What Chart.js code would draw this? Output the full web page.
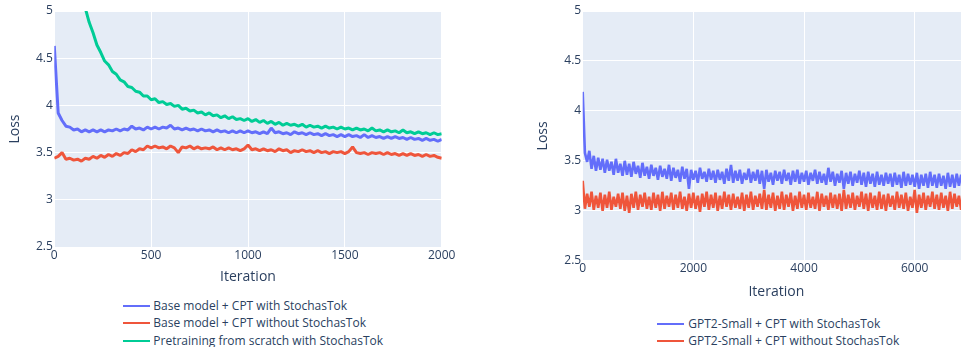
<!DOCTYPE html>
<html><head><meta charset="utf-8">
<script src="https://cdn.jsdelivr.net/npm/chart.js@4.4.1/dist/chart.umd.min.js"></script>
<style>
html,body{margin:0;padding:0;background:#fff;overflow:hidden;width:961px;height:347px;position:relative;}
canvas{position:absolute;top:0;}
#c1{left:0;} #c2{left:480px;}
.item{position:absolute;font:12px "Open Sans",sans-serif;color:#2a3f5f;white-space:nowrap;height:16px;line-height:16px;}
.sw{position:absolute;width:27px;height:2px;}
</style></head>
<body>
<canvas id="c1" width="480" height="290"></canvas>
<canvas id="c2" width="491" height="305"></canvas>
<div id="legends"></div>
<script>
// ---------- DATA ----------
const leftLabels = ["Base model + CPT with StochasTok","Base model + CPT without StochasTok","Pretraining from scratch with StochasTok"];
const rightLabels = ["GPT2-Small + CPT with StochasTok","GPT2-Small + CPT without StochasTok"];
const xTicksLeft = [0,500,1000,1500,2000];
const xTicksRight = [0,2000,4000,6000];
const yTicks = [2.5,3,3.5,4,4.5,5];

// left panel: one value every 20 iterations (0..2000)
const leftIterations = [];
for (let i = 0; i <= 100; i++) leftIterations.push(i * 20);
const baseWith = [4.63,3.92,3.84,3.78,3.77,3.74,3.75,3.72,3.74,3.72,
 3.74,3.72,3.74,3.72,3.74,3.73,3.75,3.73,3.75,3.74,
 3.78,3.75,3.76,3.74,3.77,3.75,3.77,3.75,3.77,3.76,
 3.79,3.75,3.76,3.74,3.76,3.74,3.75,3.73,3.75,3.73,
 3.74,3.72,3.74,3.72,3.73,3.71,3.73,3.71,3.73,3.71,
 3.73,3.71,3.72,3.70,3.72,3.70,3.76,3.71,3.72,3.70,
 3.71,3.69,3.72,3.70,3.71,3.69,3.71,3.69,3.70,3.68,
 3.70,3.68,3.69,3.67,3.69,3.67,3.69,3.67,3.68,3.66,
 3.69,3.66,3.68,3.66,3.67,3.65,3.67,3.65,3.67,3.65,
 3.66,3.64,3.66,3.64,3.65,3.63,3.65,3.63,3.64,3.62,
 3.64];
const baseWithout = [3.44,3.46,3.50,3.43,3.44,3.42,3.43,3.41,3.44,3.43,
 3.46,3.44,3.47,3.45,3.48,3.46,3.49,3.47,3.50,3.49,
 3.53,3.51,3.54,3.53,3.57,3.55,3.57,3.55,3.56,3.54,
 3.57,3.55,3.50,3.56,3.55,3.57,3.54,3.56,3.54,3.55,
 3.54,3.56,3.53,3.55,3.53,3.55,3.53,3.54,3.52,3.54,
 3.58,3.53,3.54,3.52,3.54,3.52,3.53,3.51,3.54,3.52,
 3.53,3.50,3.52,3.51,3.53,3.51,3.52,3.50,3.52,3.50,
 3.51,3.49,3.51,3.50,3.51,3.49,3.51,3.56,3.50,3.49,
 3.50,3.48,3.50,3.49,3.50,3.48,3.50,3.48,3.49,3.47,
 3.49,3.47,3.49,3.47,3.48,3.46,3.48,3.46,3.47,3.45,
 3.44];
const scratchWith = [8.8,7.7,6.9,6.3,5.9,5.62,5.4,5.2,5.03,4.88,
 4.77,4.64,4.56,4.47,4.43,4.36,4.33,4.27,4.25,4.20,
 4.19,4.15,4.14,4.10,4.10,4.06,4.07,4.03,4.04,4.01,
 4.02,3.99,4.00,3.96,3.97,3.94,3.95,3.92,3.93,3.90,
 3.92,3.89,3.90,3.87,3.89,3.86,3.88,3.85,3.86,3.84,
 3.86,3.83,3.85,3.82,3.84,3.81,3.83,3.80,3.82,3.79,
 3.81,3.79,3.80,3.78,3.80,3.77,3.79,3.77,3.78,3.76,
 3.78,3.76,3.77,3.75,3.77,3.75,3.76,3.74,3.76,3.74,
 3.75,3.73,3.76,3.73,3.74,3.72,3.74,3.72,3.73,3.71,
 3.74,3.71,3.72,3.70,3.72,3.70,3.71,3.69,3.71,3.69,
 3.70];

// right panel: one value every 40 iterations (0..7000)
const rightIterations = [];
for (let i = 0; i <= 175; i++) rightIterations.push(i * 40);
const gpt2With = [4.19,3.58,3.49,3.60,3.42,3.55,3.40,3.53,3.41,3.52,
 3.38,3.51,3.40,3.49,3.36,3.52,3.38,3.47,3.35,3.50,
 3.36,3.47,3.34,3.49,3.37,3.45,3.33,3.48,3.35,3.44,
 3.32,3.46,3.35,3.43,3.31,3.45,3.34,3.42,3.32,3.46,
 3.30,3.43,3.33,3.41,3.29,3.44,3.32,3.42,3.22,3.41,
 3.31,3.40,3.28,3.43,3.32,3.39,3.29,3.42,3.31,3.40,
 3.28,3.41,3.31,3.39,3.27,3.42,3.30,3.46,3.28,3.40,
 3.30,3.41,3.27,3.38,3.31,3.42,3.28,3.39,3.30,3.41,
 3.27,3.40,3.22,3.41,3.29,3.38,3.26,3.40,3.30,3.39,
 3.27,3.41,3.30,3.38,3.26,3.40,3.29,3.41,3.27,3.38,
 3.29,3.40,3.26,3.38,3.30,3.41,3.27,3.39,3.28,3.37,
 3.26,3.43,3.29,3.39,3.25,3.37,3.28,3.40,3.22,3.38,
 3.27,3.39,3.25,3.37,3.28,3.40,3.26,3.38,3.24,3.39,
 3.27,3.37,3.24,3.39,3.26,3.36,3.25,3.38,3.27,3.37,
 3.24,3.38,3.26,3.36,3.23,3.39,3.25,3.37,3.26,3.36,
 3.24,3.38,3.22,3.36,3.25,3.37,3.23,3.39,3.25,3.36,
 3.23,3.37,3.25,3.35,3.22,3.38,3.24,3.36,3.23,3.37,
 3.25,3.36,3.23,3.38,3.24,3.35];
const gpt2Without = [3.30,3.02,3.17,3.04,3.19,3.01,3.15,3.03,3.18,3.00,
 3.16,3.03,3.19,3.01,3.14,3.04,3.17,3.02,3.18,3.00,
 3.15,2.98,3.17,3.03,3.19,3.01,3.16,3.04,3.18,3.02,
 3.14,3.01,3.18,3.03,3.16,3.00,3.19,3.02,3.15,3.04,
 3.18,3.01,3.16,3.03,3.19,3.02,3.14,3.00,3.17,3.03,
 3.18,3.02,3.15,2.99,3.17,3.04,3.19,3.01,3.16,3.03,
 3.18,3.00,3.15,3.02,3.19,3.04,3.16,3.01,3.17,3.03,
 3.14,3.02,3.18,3.00,3.16,3.03,3.19,3.01,3.15,3.04,
 3.17,3.02,3.21,3.01,3.16,3.03,3.18,3.00,3.15,3.02,
 3.19,3.01,3.16,3.04,3.18,3.00,3.15,3.02,3.19,3.03,
 3.16,3.01,3.18,3.03,3.14,3.02,3.19,3.00,3.17,3.04,
 3.15,3.01,3.18,3.03,3.16,3.02,3.17,3.00,3.21,3.02,
 3.16,3.03,3.18,3.01,3.15,3.04,3.19,3.02,3.17,3.00,
 3.18,3.03,3.15,3.01,3.19,3.02,3.16,3.00,3.17,3.04,
 3.15,3.01,3.19,3.03,3.16,3.02,3.18,3.00,3.14,3.03,
 3.21,2.98,3.16,3.03,3.18,3.01,3.15,3.04,3.19,3.02,
 3.16,3.01,3.18,3.03,3.15,3.00,3.19,3.02,3.17,3.04,
 3.15,3.01,3.18,3.03,3.16,3.02];

// ---------- STYLE ----------
const BLUE = '#636efa', RED = '#EF553B', GREEN = '#00cc96';
const TEXT = '#2a3f5f';
const FAM = '"Open Sans", sans-serif';

const bgPlugin = {id:'bg', beforeDraw(chart){
  const {ctx, chartArea:a} = chart;
  ctx.save(); ctx.fillStyle = '#E5ECF6';
  ctx.fillRect(a.left, a.top, a.right - a.left, a.bottom - a.top);
  ctx.restore();
}};

function pts(xs, ys){ return ys.map((y,i)=>({x:xs[i], y:y})); }

function makeChart(id, cfg){
  return new Chart(document.getElementById(id), {
    type:'line',
    data:{datasets: cfg.datasets},
    options:{
      responsive:false, animation:false, events:[],
      layout:{padding:{left:0, top:cfg.padTop, right:cfg.padRight, bottom:0}},
      plugins:{legend:{display:false}, tooltip:{enabled:false}},
      elements:{point:{radius:0}, line:{tension:0, borderJoinStyle:'bevel'}},
      scales:{
        x:{type:'linear', min:0, max:cfg.xMax,
          afterBuildTicks(s){ s.ticks = cfg.xTicks.map(v=>({value:v})); },
          afterFit(s){ s.height = cfg.xHeight; },
          grid:{color:'#ffffff', lineWidth:1, drawTicks:false},
          border:{display:false},
          ticks:{autoSkip:false, maxRotation:0, padding:cfg.xTickPad, color:TEXT, font:{family:FAM, size:12}, callback:v=>String(v)},
          title:{display:true, text:'Iteration', color:TEXT, font:{family:FAM, size:14}, padding:{top:0, bottom:cfg.xTitlePad}}
        },
        y:{type:'linear', min:2.5, max:5,
          afterBuildTicks(s){ s.ticks = yTicks.map(v=>({value:v})); },
          afterFit(s){ s.width = cfg.yWidth; },
          grid:{color:'#ffffff', lineWidth:1, drawTicks:false},
          border:{display:false},
          ticks:{autoSkip:false, padding:1.5, color:TEXT, font:{family:FAM, size:12}, callback:v=>String(v)},
          title:{display:true, text:'Loss', color:TEXT, font:{family:FAM, size:14}, padding:{top:cfg.yTitlePad, bottom:0}}
        }
      }
    },
    plugins:[bgPlugin]
  });
}

const leftChart = makeChart('c1', {
  xMax:2000, xTicks:xTicksLeft, xHeight:43, yWidth:54.3, padTop:11, padRight:38.3,
  xTickPad:1, xTitlePad:4.6, yTitlePad:6.6,
  datasets:[
    {label:leftLabels[0], data:pts(leftIterations, baseWith), borderColor:BLUE, borderWidth:3, order:3, clip:0},
    {label:leftLabels[1], data:pts(leftIterations, baseWithout), borderColor:RED, borderWidth:3, order:2, clip:0},
    {label:leftLabels[2], data:pts(leftIterations, scratchWith), borderColor:GREEN, borderWidth:3, order:1, clip:0}
  ]
});
const rightChart = makeChart('c2', {
  xMax:7000, xTicks:xTicksRight, xHeight:44.3, yWidth:102.7, padTop:11, padRight:1,
  xTickPad:1, xTitlePad:4.9, yTitlePad:54.3,
  datasets:[
    {label:rightLabels[0], data:pts(rightIterations, gpt2With), borderColor:BLUE, borderWidth:2.6, order:2, clip:0},
    {label:rightLabels[1], data:pts(rightIterations, gpt2Without), borderColor:RED, borderWidth:2.6, order:1, clip:0}
  ]
});

// ---------- LEGENDS (built from the chart datasets) ----------
function buildLegend(chart, swLeft, txtLeft, y0, dy){
  const host = document.getElementById('legends');
  chart.data.datasets.forEach((ds, i) => {
    const cy = y0 + dy * i;
    const sw = document.createElement('div');
    sw.className = 'sw'; sw.style.left = swLeft + 'px'; sw.style.top = (cy - 1) + 'px';
    sw.style.background = ds.borderColor;
    host.appendChild(sw);
    const t = document.createElement('div');
    t.className = 'item'; t.style.left = txtLeft + 'px'; t.style.top = (cy - 8) + 'px';
    t.textContent = ds.label;
    host.appendChild(t);
  });
}
buildLegend(leftChart, 122.7, 153.3, 306, 17.35);
buildLegend(rightChart, 657.3, 688.3, 324, 16.7);
</script>
</body></html>
